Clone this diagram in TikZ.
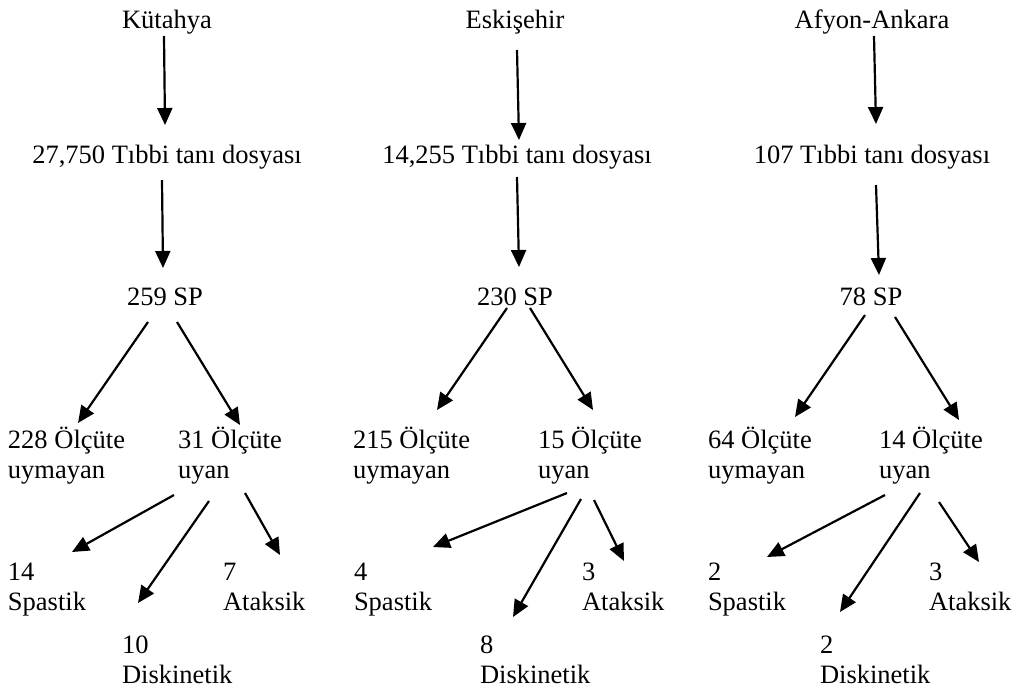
\documentclass[tikz,border=0pt]{standalone}
\usepackage{fontspec}
\setmainfont{Liberation Serif}
\usetikzlibrary{arrows.meta}
\newcommand{\twoline}[2]{\begin{tabular}[t]{@{}l@{}}#1\\#2\end{tabular}}
\tikzset{
  lbl/.style={inner sep=0pt, outer sep=0pt, font=\fontsize{26.5}{30}\selectfont},
  ctr/.style={lbl, anchor=base},
  lft/.style={lbl, anchor=base west},
  arr/.style={line width=2.2pt, -{Triangle[length=17pt,width=15pt]}}
}
\begin{document}
\begin{tikzpicture}[x=1pt,y=-1pt]
\useasboundingbox (0,0) rectangle (1012,691);
% Column 1
\node[ctr] (k0) at (167,28) {Kütahya};
\node[ctr] (k1) at (167,163) {27,750 Tıbbi tanı dosyası};
\node[ctr] (k2) at (165,305) {259 SP};
\node[lft] (k3) at (8,448) {\twoline{228 Ölçüte}{uymayan}};
\node[lft] (k4) at (178,448) {\twoline{31 Ölçüte}{uyan}};
\node[lft] (k5) at (8,580) {\twoline{14}{Spastik}};
\node[lft] (k6) at (122,653) {\twoline{10}{Diskinetik}};
\node[lft] (k7) at (223,580) {\twoline{7}{Ataksik}};
% Column 2
\node[ctr] (e0) at (515,28) {Eskişehir};
\node[ctr] (e1) at (517,163) {14,255 Tıbbi tanı dosyası};
\node[ctr] (e2) at (515,305) {230 SP};
\node[lft] (e3) at (353,448) {\twoline{215 Ölçüte}{uymayan}};
\node[lft] (e4) at (538,448) {\twoline{15 Ölçüte}{uyan}};
\node[lft] (e5) at (354,580) {\twoline{4}{Spastik}};
\node[lft] (e6) at (480,653) {\twoline{8}{Diskinetik}};
\node[lft] (e7) at (582,580) {\twoline{3}{Ataksik}};
% Column 3
\node[ctr] (a0) at (872,28) {Afyon-Ankara};
\node[ctr] (a1) at (872,163) {107 Tıbbi tanı dosyası};
\node[ctr] (a2) at (871,305) {78 SP};
\node[lft] (a3) at (708,448) {\twoline{64 Ölçüte}{uymayan}};
\node[lft] (a4) at (879,448) {\twoline{14 Ölçüte}{uyan}};
\node[lft] (a5) at (708,580) {\twoline{2}{Spastik}};
\node[lft] (a6) at (820,653) {\twoline{2}{Diskinetik}};
\node[lft] (a7) at (929,580) {\twoline{3}{Ataksik}};
% Arrows column 1
\draw[arr] ([shift={(-3,8)}]k0.base) -- ([shift={(-2,-38)}]k1.base);
\draw[arr] ([shift={(-5,17)}]k1.base) -- ([shift={(-2,-37)}]k2.base);
\draw[arr] ([shift={(-17,17)}]k2.base) -- ([shift={(70,-25)}]k3.base west);
\draw[arr] ([shift={(12,17)}]k2.base) -- ([shift={(62,-23)}]k4.base west);
\draw[arr] ([shift={(-4,47)}]k4.base west) -- ([shift={(64,-28)}]k5.base west);
\draw[arr] ([shift={(31,53)}]k4.base west) -- ([shift={(16,-50)}]k6.base west);
\draw[arr] ([shift={(67,45)}]k4.base west) -- ([shift={(57,-25)}]k7.base west);
% Arrows column 2
\draw[arr] ([shift={(2,22)}]e0.base) -- ([shift={(2,-23)}]e1.base);
\draw[arr] ([shift={(0,14)}]e1.base) -- ([shift={(4,-38)}]e2.base);
\draw[arr] ([shift={(-8,3)}]e2.base) -- ([shift={(84,-38)}]e3.base west);
\draw[arr] ([shift={(15,3)}]e2.base) -- ([shift={(55,-38)}]e4.base west);
\draw[arr] ([shift={(29,45)}]e4.base west) -- ([shift={(79,-33)}]e5.base west);
\draw[arr] ([shift={(43,51)}]e4.base west) -- ([shift={(33,-36)}]e6.base west);
\draw[arr] ([shift={(56,52)}]e4.base west) -- ([shift={(42,-19)}]e7.base west);
% Arrows column 3
\draw[arr] ([shift={(2,8)}]a0.base) -- ([shift={(4,-39)}]a1.base);
\draw[arr] ([shift={(4,22)}]a1.base) -- ([shift={(8,-30)}]a2.base);
\draw[arr] ([shift={(-6,10)}]a2.base) -- ([shift={(87,-31)}]a3.base west);
\draw[arr] ([shift={(24,12)}]a2.base) -- ([shift={(80,-28)}]a4.base west);
\draw[arr] ([shift={(6,47)}]a4.base west) -- ([shift={(59,-23)}]a5.base west);
\draw[arr] ([shift={(41,45)}]a4.base west) -- ([shift={(20,-41)}]a6.base west);
\draw[arr] ([shift={(60,54)}]a4.base west) -- ([shift={(50,-18)}]a7.base west);
\end{tikzpicture}
\end{document}
